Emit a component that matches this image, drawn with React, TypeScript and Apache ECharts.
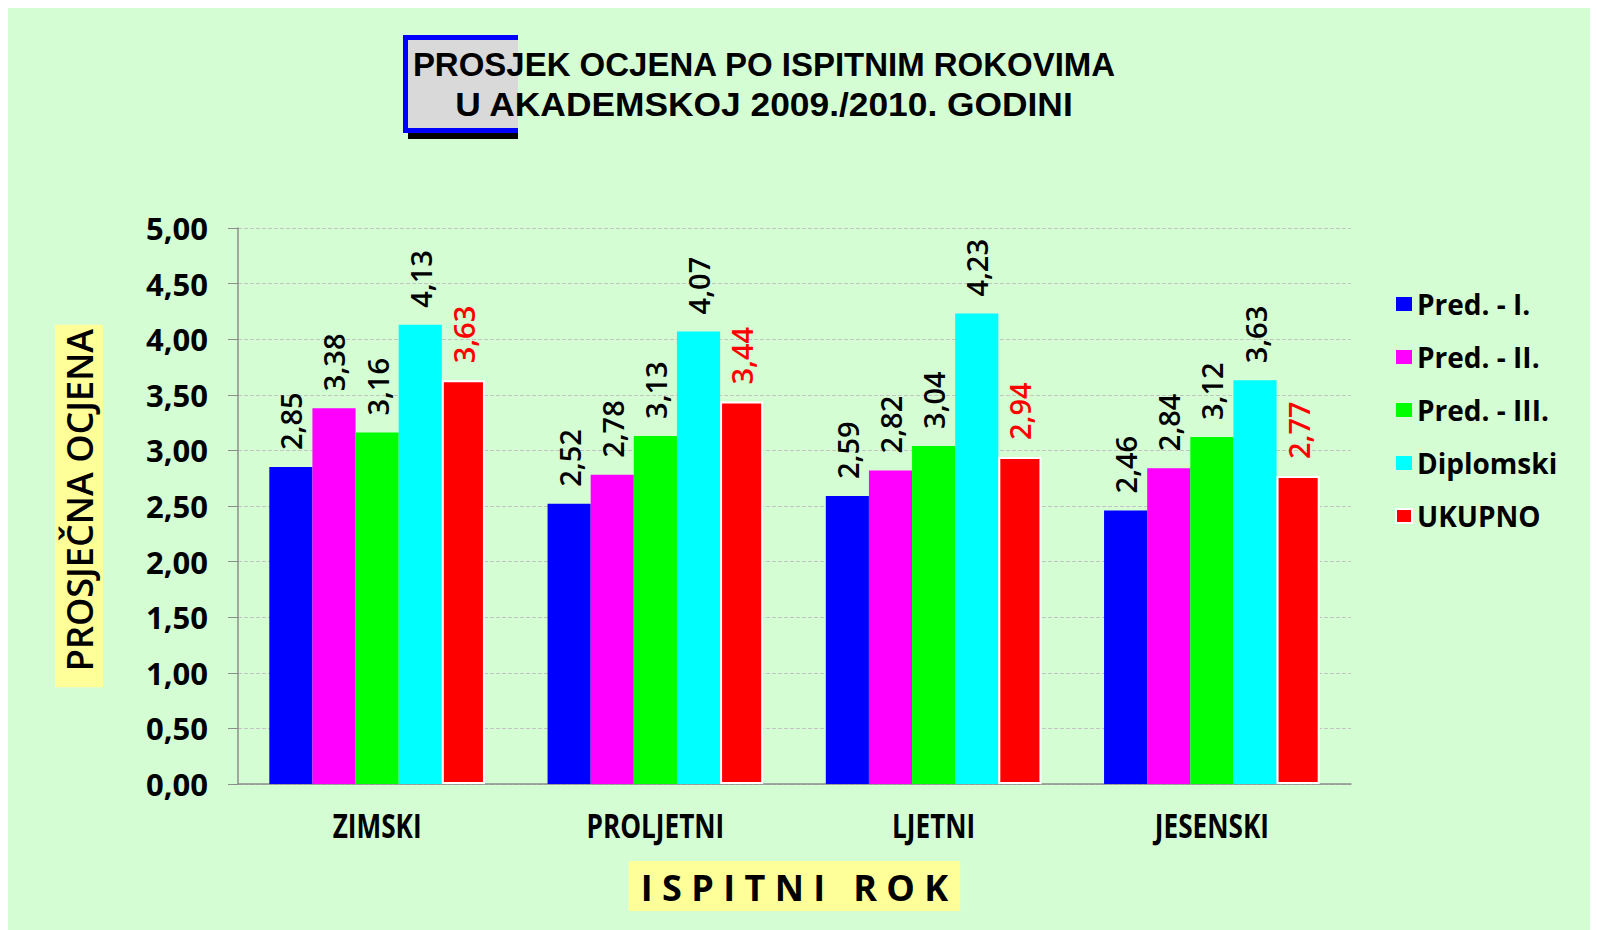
import React, { useEffect, useRef } from "react";
import * as echarts from "echarts";

const categories = ["ZIMSKI", "PROLJETNI", "LJETNI", "JESENSKI"];
const seriesNames = ["Pred. - I.", "Pred. - II.", "Pred. - III.", "Diplomski", "UKUPNO"];
const predI = [2.85, 2.52, 2.59, 2.46];
const predII = [3.38, 2.78, 2.82, 2.84];
const predIII = [3.16, 3.13, 3.04, 3.12];
const diplomski = [4.13, 4.07, 4.23, 3.63];
const ukupno = [3.63, 3.44, 2.94, 2.77];
const seriesColors = ["#0000ff", "#ff00ff", "#00ff00", "#00ffff", "#ff0000"];
const titleLines = ["PROSJEK OCJENA PO ISPITNIM ROKOVIMA", "U AKADEMSKOJ 2009./2010. GODINI"];

const fmt = (v: number) => v.toFixed(2).replace(".", ",");
const FONT = '"Open Sans", sans-serif';
const TITLE_FONT = '"Liberation Sans", Arial, sans-serif';

export default function App() {
  const ref = useRef<HTMLDivElement>(null);
  useEffect(() => {
    if (!ref.current) return;
    const chart = echarts.init(ref.current, null, { renderer: "svg" });
    const values = [predI, predII, predIII, diplomski, ukupno];
    const series = values.map((data, i) => ({
      name: seriesNames[i],
      type: "bar",
      data,
      barGap: "0%",
      barCategoryGap: "22.5%",
      itemStyle: {
        color: seriesColors[i],
        borderColor: i === 4 ? "#ffffff" : seriesColors[i],
        borderWidth: i === 4 ? 2 : 0,
      },
      label: {
        show: true,
        position: "top",
        rotate: 90,
        align: "left",
        verticalAlign: "middle",
        distance: 17,
        formatter: (p: any) => fmt(p.value),
        fontFamily: FONT,
        fontWeight: 600,
        fontSize: 29,
        color: i === 4 ? "#ff0000" : "#000000",
      },
    }));
    const titleGraphics: any[] = [
      { type: "rect", z: 10, shape: { x: 395, y: 27, width: 115, height: 98 }, style: { fill: "#0000ff" } },
      { type: "rect", z: 10, shape: { x: 400, y: 125, width: 110, height: 6 }, style: { fill: "#000000" } },
      { type: "rect", z: 11, shape: { x: 400, y: 32, width: 110, height: 88 }, style: { fill: "#d9d9d9" } },
      {
        type: "text", z: 12, x: 756, y: 56, scaleX: 0.97,
        style: { text: titleLines[0], textAlign: "center", textVerticalAlign: "middle", fontFamily: TITLE_FONT, fontWeight: "bold", fontSize: 34, lineHeight: 38, fill: "#000" },
      },
      {
        type: "text", z: 12, x: 756, y: 96, scaleX: 1.04,
        style: { text: titleLines[1], textAlign: "center", textVerticalAlign: "middle", fontFamily: TITLE_FONT, fontWeight: "bold", fontSize: 34, lineHeight: 38, fill: "#000" },
      },
    ];
    chart.setOption({
      animation: false,
      backgroundColor: "#d4fdd4",
      grid: { left: 230, right: 247, top: 220, bottom: 146, outerBoundsMode: "none", containLabel: false },
      legend: {
        orient: "vertical",
        left: 1382,
        top: 276,
        itemWidth: 16,
        itemHeight: 14,
        itemGap: 23,
        icon: "rect",
        data: seriesNames,
        textStyle: {
          fontFamily: FONT,
          fontWeight: "bold",
          fontSize: 28,
          lineHeight: 30,
          color: "#000",
        },
      },
      xAxis: {
        type: "category",
        data: categories,
        axisLine: { lineStyle: { color: "#8c8c8c", width: 1.5 } },
        axisTick: { length: 10, lineStyle: { color: "#8c8c8c" } },
        axisLabel: { show: false },
        name: "I S P I T N I   R O K",
        nameLocation: "middle",
        nameGap: 77,
        nameTextStyle: {
          fontFamily: FONT,
          fontWeight: "bold",
          fontSize: 36,
          color: "#000",
          backgroundColor: "#ffff99",
          padding: [8, 12, 6, 12],
        },
      },
      yAxis: {
        type: "value",
        min: 0,
        max: 5,
        interval: 0.5,
        axisLine: { show: true, lineStyle: { color: "#8c8c8c", width: 1.5 } },
        axisTick: { show: true, length: 10, lineStyle: { color: "#8c8c8c" } },
        splitLine: { lineStyle: { color: "#c4c4c4", type: "dashed", width: 1 } },
        axisLabel: {
          margin: 30,
          formatter: (v: number) => fmt(v),
          fontFamily: FONT,
          fontWeight: "bold",
          fontSize: 31,
          color: "#000",
        },
        name: "PROSJEČNA OCJENA",
        nameLocation: "middle",
        nameRotate: 90,
        nameGap: 135,
        nameTextStyle: {
          fontFamily: FONT,
          fontWeight: 600,
          fontSize: 36,
          color: "#000",
          backgroundColor: "#ffff99",
          padding: [6, 4, 6, 16],
        },
      },
      graphic: titleGraphics,
      series,
    });
    const catGraphics = categories.map((c) => {
      const px = chart.convertToPixel({ xAxisIndex: 0 }, c) as number;
      const py = chart.convertToPixel({ yAxisIndex: 0 }, 0) as number;
      return {
        type: "text",
        z: 12,
        x: px,
        y: py + 41,
        scaleX: 0.77,
        style: { text: c, textAlign: "center", textVerticalAlign: "middle", fontFamily: FONT, fontWeight: "bold", fontSize: 34, fill: "#000" },
      };
    });
    chart.setOption({ graphic: [...titleGraphics, ...catGraphics] });
    return () => chart.dispose();
  }, []);
  return <div ref={ref} style={{ width: 1590, height: 922 }} />;
}
